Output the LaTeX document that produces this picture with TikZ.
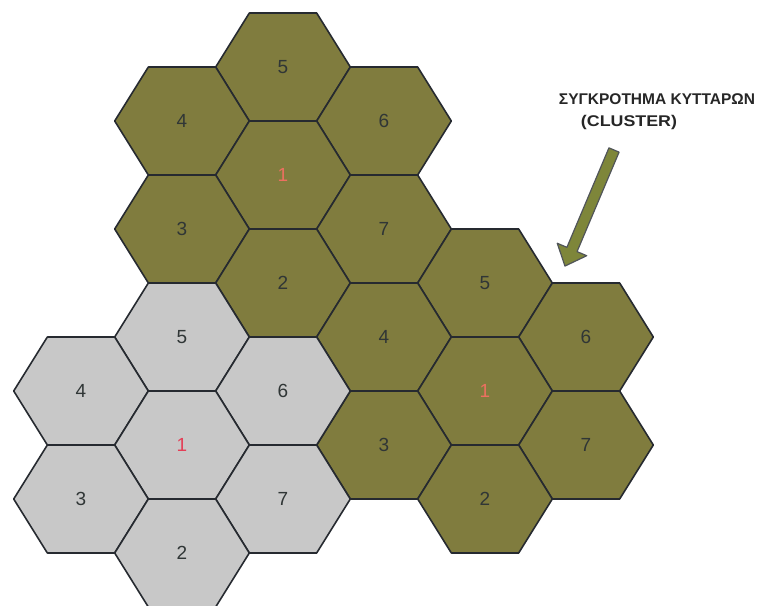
\documentclass[tikz,border=0pt]{standalone}
\usepackage{fontspec}
\setmainfont{Liberation Sans}
\usepackage{tikz}
\definecolor{cellolive}{RGB}{128,124,62}
\definecolor{cellgrey}{RGB}{200,200,200}
\definecolor{celledge}{RGB}{38,42,48}
\definecolor{numdark}{RGB}{48,54,54}
\definecolor{numred}{RGB}{228,62,86}
\definecolor{numsalmon}{RGB}{236,112,96}
\definecolor{arrowgreen}{RGB}{126,134,58}
\tikzset{
    olivecell/.style={
        fill=cellolive,
        draw=celledge,
        line width=1.6pt,
        line join=round
    },
    % grey cells of the left group
    greycell/.style={
        fill=cellgrey,
        draw=celledge,
        line width=1.6pt,
        line join=round
    },
    cellnum/.style={
        text=numdark,
        font=\fontsize{19}{19}\selectfont
    },
    clustertitle/.style={
        text=black!85,
        font=\bfseries\fontsize{15.5}{15.5}\selectfont
    },
    clusterarrow/.style={
        fill=arrowgreen,
        draw=celledge!80,
        line width=1.2pt,
        line join=round
    }
}

\begin{document}
\begin{tikzpicture}[x=1pt,y=1pt]
    \useasboundingbox (0,0) rectangle (759,605);
    \path
    (283,538) coordinate (t5) (182,484) coordinate (t4) (384,484) coordinate (t6)
    (283,430) coordinate (t1) (182,376) coordinate (t3) (384,376) coordinate (t7)
    (283,322) coordinate (t2)
    (485,322) coordinate (r5) (384,268) coordinate (r4) (586,268) coordinate (r6)
    (485,214) coordinate (r1) (384,160) coordinate (r3) (586,160) coordinate (r7)
    (485,106) coordinate (r2)
    (182,268) coordinate (g5) (81,214) coordinate (g4) (283,214) coordinate (g6)
    (182,160) coordinate (g1) (81,106) coordinate (g3) (283,106) coordinate (g7)
    (182,52) coordinate (g2);
    % hexagonal cells
    \foreach \c in {t5,t4,t6,t1,t3,t7,t2,r5,r4,r6,r1,r3,r7,r2}
        \draw[olivecell] ([xshift=-67.3pt]\c) -- ++(33.65,54) -- ++(67.3,0)
        -- ++(33.65,-54) -- ++(-33.65,-54) -- ++(-67.3,0) -- cycle;
    \foreach \c in {g5,g4,g6,g1,g3,g7,g2}
        \draw[greycell] ([xshift=-67.3pt]\c) -- ++(33.65,54) -- ++(67.3,0)
        -- ++(33.65,-54) -- ++(-33.65,-54) -- ++(-67.3,0) -- cycle;
    % cell numbers
    \foreach \c/\n in {t5/5,t4/4,t6/6,t3/3,t7/7,t2/2,r5/5,r4/4,r6/6,r3/3,r7/7,r2/2,
        g5/5,g4/4,g6/6,g3/3,g7/7,g2/2}
        \node[cellnum] (n\c) at (\c) {\n};
    \node[cellnum,text=numsalmon] (nt1) at (t1) {1};
    \node[cellnum,text=numsalmon] (nr1) at (r1) {1};
    \node[cellnum,text=numred] (ng1) at (g1) {1};

    \node[clustertitle] (title) at (657,506) {ΣΥΓΚΡΟΤΗΜΑ ΚΥΤΤΑΡΩΝ};
    \node[clustertitle] (subtitle) at (629,483) {\scalebox{1.15}[1]{(CLUSTER)}};
    \begin{scope}[shift={(614,455)},rotate=247.1]
        \draw[clusterarrow] (0,-5.5) -- (108,-5.5) -- (108,-16) -- (126,0)
        -- (108,16) -- (108,5.5) -- (0,5.5) -- cycle;
    \end{scope}
\end{tikzpicture}
\end{document}
